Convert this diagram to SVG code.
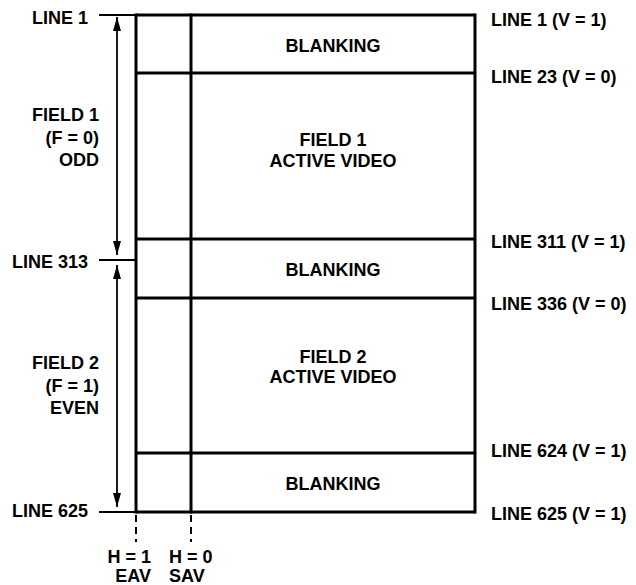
<svg xmlns="http://www.w3.org/2000/svg" width="636" height="585" viewBox="0 0 636 585">
<defs>
<style>
text{font-family:"Liberation Sans",Arial,sans-serif;font-weight:bold;font-size:18px;fill:#000}
.e{text-anchor:end}
.m{text-anchor:middle}
.thick{stroke:#000;stroke-width:3;fill:none}
.thin{stroke:#000;stroke-width:1.8;fill:none}
.dash{stroke:#000;stroke-width:2;stroke-dasharray:7 5;fill:none}
</style>
<marker id="ah" viewBox="0 0 14 8" refX="14" refY="4" markerWidth="14" markerHeight="8" markerUnits="userSpaceOnUse" orient="auto">
<path d="M0,0 L14,4 L0,8 Z" fill="#000"/>
</marker>
</defs>
<rect width="636" height="585" fill="#fff"/>
<g id="connectors">
<line class="thin" x1="99" y1="15" x2="136" y2="15"/>
<line class="thin" x1="99" y1="260" x2="136" y2="260"/>
<line class="thin" x1="99" y1="512" x2="136" y2="512"/>
<line class="thin" x1="117" y1="136" x2="117" y2="17" marker-end="url(#ah)"/>
<line class="thin" x1="117" y1="136" x2="117" y2="255" marker-end="url(#ah)"/>
<line class="thin" x1="117" y1="386" x2="117" y2="265" marker-end="url(#ah)"/>
<line class="thin" x1="117" y1="386" x2="117" y2="507" marker-end="url(#ah)"/>
<line class="dash" x1="136" y1="515" x2="136" y2="542"/>
<line class="dash" x1="191" y1="515" x2="191" y2="542"/>
</g>
<g id="frame">
<line class="thick" x1="136" y1="15" x2="475" y2="15"/>
<line class="thick" x1="136" y1="512" x2="475" y2="512"/>
<line class="thick" x1="136" y1="13.5" x2="136" y2="513.5"/>
<line class="thick" x1="191" y1="13.5" x2="191" y2="513.5"/>
<line class="thick" x1="475" y1="13.5" x2="475" y2="513.5"/>
<line class="thick" x1="136" y1="73" x2="475" y2="73"/>
<line class="thick" x1="136" y1="239" x2="475" y2="239"/>
<line class="thick" x1="136" y1="298" x2="475" y2="298"/>
<line class="thick" x1="136" y1="453" x2="475" y2="453"/>
</g>
<g id="blank1"><text class="m" x="333" y="52">BLANKING</text></g>
<g id="field1"><text class="m" x="333" y="146">FIELD 1</text><text class="m" x="333" y="166.5">ACTIVE VIDEO</text></g>
<g id="blank2"><text class="m" x="333" y="276">BLANKING</text></g>
<g id="field2"><text class="m" x="333" y="362.5">FIELD 2</text><text class="m" x="333" y="383">ACTIVE VIDEO</text></g>
<g id="blank3"><text class="m" x="333" y="490">BLANKING</text></g>
<g id="left-labels">
<text class="e" x="88" y="24">LINE 1</text>
<text class="e" x="88" y="268">LINE 313</text>
<text class="e" x="88" y="517">LINE 625</text>
<text class="e" x="99" y="121">FIELD 1</text>
<text class="e" x="99" y="143.5">(F = 0)</text>
<text class="e" x="99" y="166">ODD</text>
<text class="e" x="99" y="369">FIELD 2</text>
<text class="e" x="99" y="391.5">(F = 1)</text>
<text class="e" x="99" y="414">EVEN</text>
</g>
<g id="right-labels">
<text x="491" y="26">LINE 1 (V = 1)</text>
<text x="491" y="83">LINE 23 (V = 0)</text>
<text x="491" y="248">LINE 311 (V = 1)</text>
<text x="491" y="310">LINE 336 (V = 0)</text>
<text x="491" y="457">LINE 624 (V = 1)</text>
<text x="491" y="520">LINE 625 (V = 1)</text>
</g>
<g id="h-labels">
<text class="e" x="151" y="563">H = 1</text>
<text class="e" x="151" y="582">EAV</text>
<text x="169" y="563">H = 0</text>
<text x="169" y="582">SAV</text>
</g>
</svg>
